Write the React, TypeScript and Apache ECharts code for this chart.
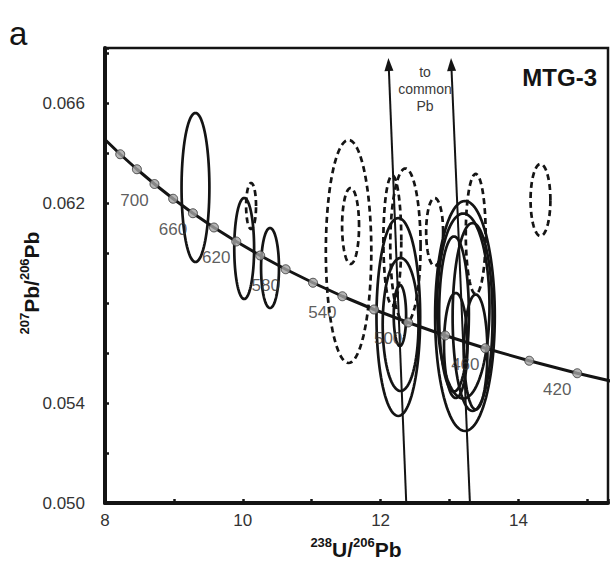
import React, { useEffect, useRef } from "react";
import * as echarts from "echarts";

// Concordia (Tera-Wasserburg) points, every 20 Ma
const concAges = [760, 740, 720, 700, 680, 660, 640, 620, 600, 580, 560, 540, 520, 500, 480, 460, 440, 420, 400];
const concX = [7.992, 8.221, 8.463, 8.718, 8.989, 9.276, 9.581, 9.905, 10.252, 10.622, 11.019, 11.445, 11.904, 12.399, 12.936, 13.52, 14.157, 14.854, 15.621];
const concY = [0.06456, 0.06395, 0.06335, 0.06276, 0.06217, 0.06159, 0.06102, 0.06046, 0.0599, 0.05935, 0.05881, 0.05827, 0.05774, 0.05722, 0.0567, 0.05619, 0.05569, 0.05519, 0.0547];
const markerAges = [740, 720, 700, 680, 660, 640, 620, 600, 580, 560, 540, 520, 500, 480, 460, 440, 420];
const labelAges = [700, 660, 620, 580, 540, 500, 460, 420];

// Error ellipses: [centre 238U/206Pb, centre 207Pb/206Pb, half-width, half-height]
const solidEllipses = [
  [9.313, 0.06262, 0.202, 0.00298],
  [10.02, 0.06018, 0.144, 0.00202],
  [10.395, 0.0594, 0.13, 0.0016],
  [12.257, 0.05744, 0.317, 0.00396],
  [12.29, 0.05714, 0.26, 0.00266],
  [12.28, 0.0575, 0.09, 0.00122],
  [13.224, 0.05748, 0.433, 0.0046],
  [13.2, 0.05788, 0.38, 0.0037],
  [13.335, 0.05744, 0.29, 0.00376],
  [13.065, 0.05756, 0.216, 0.0031],
  [13.09, 0.0563, 0.17, 0.0021],
  [13.38, 0.05604, 0.17, 0.0023],
];
const dashedEllipses = [
  [10.12, 0.06188, 0.072, 0.00092],
  [11.535, 0.06006, 0.33, 0.00446],
  [11.564, 0.06108, 0.123, 0.00152],
  [12.36, 0.06028, 0.22, 0.0031],
  [12.17, 0.0605, 0.13, 0.0026],
  [12.784, 0.06084, 0.123, 0.00136],
  [13.38, 0.06076, 0.144, 0.0024],
  [14.32, 0.06212, 0.144, 0.00144],
];

// Common-Pb arrows: [x at start, y at start, x at tip, y at tip]
const arrows = [
  [12.372, 0.05, 12.113, 0.0678],
  [13.296, 0.05, 13.022, 0.0678],
];

const xLabelTicks = [8, 10, 12, 14];
const yLabelTicks = ["0.066", "0.062", "0.054", "0.050"];

export default function App() {
  const ref = useRef<HTMLDivElement>(null);
  useEffect(() => {
    const chart = echarts.init(ref.current!, null, { renderer: "svg" });
    const font = "'Liberation Sans', Arial, Helvetica, sans-serif";
    const ink = "#141414";

    const ellipseRender = (dashed: boolean) => (_params: any, api: any) => {
      const cx = api.value(0);
      const cy = api.value(1);
      const rx = api.value(2);
      const ry = api.value(3);
      const pts: number[][] = [];
      const n = 96;
      for (let i = 0; i <= n; i++) {
        const t = (i / n) * Math.PI * 2;
        pts.push(api.coord([cx + rx * Math.cos(t), cy + ry * Math.sin(t)]));
      }
      return {
        type: "polyline",
        shape: { points: pts },
        style: {
          fill: "none",
          stroke: ink,
          lineWidth: 2.7,
          lineDash: dashed ? [6, 4] : null,
        },
      };
    };

    const arrowRender = (_params: any, api: any) => {
      const p0 = api.coord([api.value(0), api.value(1)]);
      const p1 = api.coord([api.value(2), api.value(3)]);
      const dx = p1[0] - p0[0];
      const dy = p1[1] - p0[1];
      const len = Math.hypot(dx, dy);
      const ux = dx / len;
      const uy = dy / len;
      const L = 13;
      const W = 4.5;
      const bx = p1[0] - ux * L;
      const by = p1[1] - uy * L;
      return {
        type: "group",
        children: [
          {
            type: "line",
            shape: { x1: p0[0], y1: p0[1], x2: bx, y2: by },
            style: { stroke: ink, lineWidth: 2 },
          },
          {
            type: "polygon",
            shape: {
              points: [
                [p1[0], p1[1]],
                [bx - uy * W, by + ux * W],
                [bx + uy * W, by - ux * W],
              ],
            },
            style: { fill: ink },
          },
        ],
      };
    };

    const concLine = concX.map((x, i) => [x, concY[i]]);
    const markers = markerAges.map((a) => {
      const i = concAges.indexOf(a);
      return [concX[i], concY[i], a];
    });

    chart.setOption({
      animation: false,
      backgroundColor: "#ffffff",
      grid: {
        left: 105,
        right: 2,
        top: 48,
        bottom: 61,
        show: true,
        borderColor: ink,
        borderWidth: 2.5,
        backgroundColor: "transparent",
      },
      xAxis: {
        type: "value",
        min: 8,
        max: 15.3,
        interval: 1,
        axisLine: { show: true, onZero: false, lineStyle: { color: ink, width: 4 } },
        axisTick: { show: true, inside: true, length: 4, lineStyle: { color: ink, width: 2.5 } },
        axisLabel: {
          margin: 9,
          fontSize: 17,
          color: "#333",
          fontFamily: font,
          formatter: (v: number) => (xLabelTicks.some((t) => Math.abs(t - v) < 1e-6) ? String(v) : ""),
        },
        splitLine: { show: false },
      },
      yAxis: {
        type: "value",
        min: 0.05,
        max: 0.0682,
        interval: 0.002,
        axisLine: { show: true, onZero: false, lineStyle: { color: ink, width: 4 } },
        axisTick: { show: true, inside: true, length: 4, lineStyle: { color: ink, width: 2.5 } },
        axisLabel: {
          margin: 20,
          fontSize: 17,
          color: "#333",
          fontFamily: font,
          formatter: (v: number) => {
            const s = v.toFixed(3);
            return yLabelTicks.includes(s) && Math.abs(parseFloat(s) - v) < 1e-6 ? s : "";
          },
        },
        splitLine: { show: false },
      },
      series: [
        {
          type: "line",
          data: concLine,
          showSymbol: false,
          clip: true,
          lineStyle: { color: ink, width: 3 },
          z: 2,
        },
        {
          type: "custom",
          data: dashedEllipses,
          renderItem: ellipseRender(true),
          clip: true,
          z: 3,
        },
        {
          type: "custom",
          data: solidEllipses,
          renderItem: ellipseRender(false),
          clip: true,
          z: 3,
        },
        {
          type: "custom",
          data: arrows,
          renderItem: arrowRender,
          clip: false,
          z: 4,
        },
        {
          type: "scatter",
          data: markers,
          symbol: "circle",
          symbolSize: 9,
          itemStyle: { color: "#a3a3a3", borderColor: "#333", borderWidth: 1 },
          label: {
            show: true,
            position: "inside",
            offset: [-20, 16],
            fontSize: 17,
            color: "#333",
            fontFamily: font,
            formatter: (p: any) => (labelAges.includes(p.value[2]) ? String(p.value[2]) : ""),
          },
          z: 5,
        },
      ],
      graphic: [
        {
          type: "text",
          x: 9,
          y: 33,
          style: { text: "a", fontSize: 33, fill: ink, fontFamily: font, verticalAlign: "middle", align: "left" },
        },
        {
          type: "text",
          x: 597,
          y: 77,
          z: 10,
          style: { text: "MTG-3", fontSize: 24, fontWeight: "bold", fill: ink, fontFamily: font, align: "right", verticalAlign: "middle" },
        },
        {
          type: "text",
          x: 425,
          y: 89,
          z: 10,
          style: {
            text: "to\ncommon\nPb",
            fontSize: 14,
            lineHeight: 17,
            fill: "#3a3a3a",
            fontFamily: font,
            align: "center",
            verticalAlign: "middle",
          },
        },
        {
          type: "text",
          x: 356,
          y: 548,
          style: {
            text: "{s|238}{m|U/}{s|206}{m|Pb}",
            fontFamily: font,
            align: "center",
            verticalAlign: "middle",
            rich: {
              s: { fontSize: 13, fontWeight: "bold", fill: ink, verticalAlign: "top", lineHeight: 24, fontFamily: font },
              m: { fontSize: 21, fontWeight: "bold", fill: ink, verticalAlign: "bottom", lineHeight: 24, fontFamily: font },
            },
          },
        },
        {
          type: "text",
          x: 30,
          y: 283,
          rotation: Math.PI / 2,
          style: {
            text: "{s|207}{m|Pb/}{s|206}{m|Pb}",
            fontFamily: font,
            align: "center",
            verticalAlign: "middle",
            rich: {
              s: { fontSize: 13, fontWeight: "bold", fill: ink, verticalAlign: "top", lineHeight: 24, fontFamily: font },
              m: { fontSize: 21, fontWeight: "bold", fill: ink, verticalAlign: "bottom", lineHeight: 24, fontFamily: font },
            },
          },
        },
      ],
    });
    return () => chart.dispose();
  }, []);
  return <div ref={ref} style={{ position: "absolute", left: 0, top: 0, width: 611, height: 564 }} />;
}
